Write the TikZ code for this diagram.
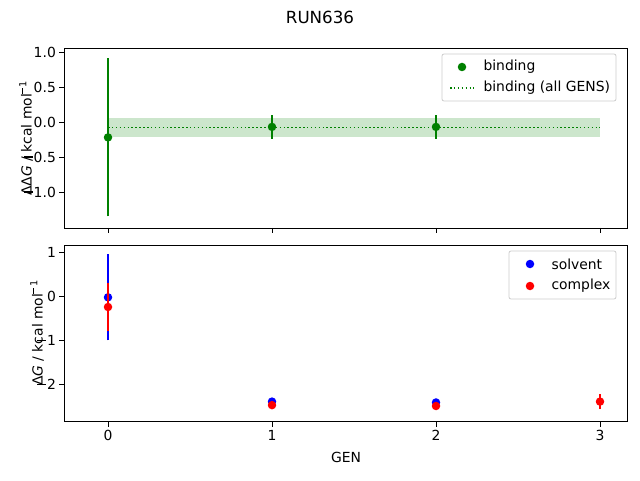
\documentclass[tikz,border=0pt]{standalone}
\usepackage{fontspec}
\setmainfont{DejaVu Sans}
\usetikzlibrary{positioning}
\definecolor{mplgreen}{RGB}{0,128,0}
\newcommand{\mplminus}{\rule[0.32em]{0.62em}{0.08em}\kern0.08em}
\tikzset{
  axisbox/.style={draw=black, line width=0.8pt},
  tickmark/.style={line width=0.8pt},
  ticklabel/.style={font=\fontsize{13.9}{16}\selectfont, inner sep=1pt},
  errbar/.style={line width=2pt},
  dot/.style={circle, fill, inner sep=0pt, minimum size=8.5pt},
  meanline/.style={mplgreen, line width=1.5pt, dash pattern=on 1.5pt off 2.4pt},
  legendbox/.style={draw=black!20, fill=white, fill opacity=0.8, rounded corners=2pt, line width=0.8pt},
}
\begin{document}
\begin{tikzpicture}[x=1pt, y=1pt, font=\fontsize{13.9}{16}\selectfont]
\useasboundingbox (0,0) rectangle (640,480);
\node[font=\fontsize{16.7}{19}\selectfont] (title) at (320,463) {RUN636};
% top axes
\begin{scope}[shift={(108,358)}, x=164pt, y=70pt]
  \fill[mplgreen, opacity=0.2] (0,-0.21) rectangle (3,0.05);
  \draw[meanline] (0,-0.08) -- (3,-0.08);
  \foreach \gx/\gy/\ge in {0/-0.22/1.13, 1/-0.07/0.17, 2/-0.07/0.17} {
    \draw[mplgreen, errbar] (\gx,\gy-\ge) -- (\gx,\gy+\ge);
    \node[dot, fill=mplgreen] at (\gx,\gy) {};
  }
  \draw[axisbox] (-0.268,-1.514) rectangle (3.165,1.057);
  \foreach \gy/\gl in {1/1.0, 0.5/0.5, 0/0.0, -0.5/\mplminus0.5, -1/\mplminus1.0} {
    \draw[tickmark] (-0.268,\gy) -- ++(-5pt,0);
    \node[ticklabel, anchor=east] at ([xshift=-7pt]-0.268,\gy) {\gl};
  }
  \foreach \gx in {0,1,2,3}
    \draw[tickmark] (\gx,-1.514) -- ++(0,-5pt);
\end{scope}
\node[rotate=90] (ylabtop) at (26,342) {ΔΔ\textit{G} / kcal mol\textsuperscript{\mplminus1}};
% top legend
\draw[legendbox] (442,379) rectangle (616,426);
\node[dot, fill=mplgreen] (legbind) at (462,413) {};
\node[anchor=west] (legbindtxt) at (480,413) {binding};
\draw[meanline] (450,392) -- (474,392);
\node[anchor=west] (legalltxt) at (480,392) {binding (all GENS)};
% bottom axes
\begin{scope}[shift={(108,184)}, x=164pt, y=44pt]
  \foreach \gx/\gy/\ge in {0/-0.03/0.98, 1/-2.4/0.06, 2/-2.42/0.06} {
    \draw[blue, errbar] (\gx,\gy-\ge) -- (\gx,\gy+\ge);
    \node[dot, fill=blue] at (\gx,\gy) {};
  }
  \foreach \gx/\gy/\ge in {0/-0.25/0.55, 1/-2.48/0.08, 2/-2.5/0.08, 3/-2.4/0.17} {
    \draw[red, errbar] (\gx,\gy-\ge) -- (\gx,\gy+\ge);
    \node[dot, fill=red] at (\gx,\gy) {};
  }
  \draw[axisbox] (-0.268,-2.86) rectangle (3.165,1.16);
  \foreach \gy/\gl in {1/1, 0/0, -1/\mplminus1, -2/\mplminus2} {
    \draw[tickmark] (-0.268,\gy) -- ++(-5pt,0);
    \node[ticklabel, anchor=east] at ([xshift=-7pt]-0.268,\gy) {\gl};
  }
  \foreach \gx in {0,1,2,3} {
    \draw[tickmark] (\gx,-2.86) -- ++(0,-5pt);
    \node[ticklabel, anchor=north] at ([yshift=-7pt]\gx,-2.86) {\gx};
  }
\end{scope}
\node[rotate=90] (ylabbot) at (37,147) {Δ\textit{G} / kcal mol\textsuperscript{\mplminus1}};
\node (xlab) at (346,23) {GEN};
% bottom legend
\draw[legendbox] (509,181) rectangle (616,229);
\node[dot, fill=blue] (legsolv) at (530,216) {};
\node[anchor=west] (legsolvtxt) at (548,216) {solvent};
\node[dot, fill=red] (legcomp) at (530,194) {};
\node[anchor=west] (legcomptxt) at (548,194) {complex};
\end{tikzpicture}
\end{document}
